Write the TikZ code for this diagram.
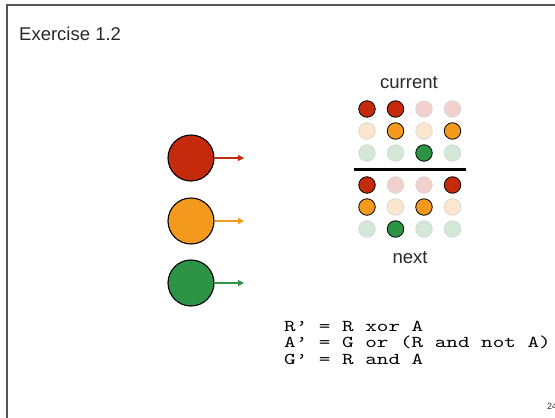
\documentclass[tikz,border=0pt]{standalone}
\usepackage{fontspec}
\setmainfont{Liberation Sans}
\newfontfamily\codefont{lmmono10-regular}[Extension=.otf,FakeStretch=1.33]
\usetikzlibrary{arrows.meta}
\definecolor{cred}{RGB}{197,42,12}
\definecolor{corange}{RGB}{243,154,30}
\definecolor{cgreen}{RGB}{45,148,69}
\definecolor{pred}{RGB}{242,209,204}
\definecolor{porange}{RGB}{253,230,206}
\definecolor{pgreen}{RGB}{211,232,215}
\definecolor{pborder}{RGB}{215,215,215}
\definecolor{framegray}{RGB}{85,85,85}
\definecolor{txtgray}{RGB}{40,40,40}
\begin{document}
\begin{tikzpicture}[x=1pt,y=-1pt,
  framelines/.style={draw=framegray,line width=2pt},
  bigc/.style={circle,draw=black,line width=1.1pt,minimum size=46pt,inner sep=0pt},
  sigarrow/.style={line width=1.1pt,-{Triangle[length=6pt,width=6pt]}},
  dot/.style={circle,minimum size=16.5pt,inner sep=0pt},
  Ron/.style={dot,fill=cred,draw=black,line width=0.8pt},
  Aon/.style={dot,fill=corange,draw=black,line width=0.8pt},
  Gon/.style={dot,fill=cgreen,draw=black,line width=0.8pt},
  Roff/.style={dot,fill=pred,draw=pborder,line width=0.8pt},
  Aoff/.style={dot,fill=porange,draw=pborder,line width=0.8pt},
  Goff/.style={dot,fill=pgreen,draw=pborder,line width=0.8pt},
  label/.style={font=\fontsize{18.5}{22}\selectfont,text=txtgray},
  code/.style={anchor=north west,align=left,font=\codefont\fontsize{16.6}{16.8}\selectfont,inner sep=0pt}
]
\useasboundingbox (0,0) rectangle (555,418);
% frame
\coordinate (fbl) at (7,420);
\coordinate (ftl) at (7,5);
\coordinate (ftr) at (557,5);
\draw[framelines] (fbl) -- (ftl) -- (ftr);
% title
\node[label,anchor=west,inner sep=0pt] (title) at (19,34) {Exercise 1.2};
% big circles
\node[bigc,fill=cred] (R) at (191,158) {};
\node[bigc,fill=corange] (A) at (191,221) {};
\node[bigc,fill=cgreen] (G) at (191,283) {};
\coordinate (Rend) at (244,158);
\coordinate (Aend) at (244,221);
\coordinate (Gend) at (244,283);
\draw[sigarrow,cred] (R.east) -- (Rend);
\draw[sigarrow,corange] (A.east) -- (Aend);
\draw[sigarrow,cgreen] (G.east) -- (Gend);
% current
\node[label] (cur) at (409,83) {current};
\foreach \st [count=\i] in {Ron,Ron,Roff,Roff}
  \node[\st] (c1-\i) at ({367+28.5*(\i-1)},109) {};
\foreach \st [count=\i] in {Aoff,Aon,Aoff,Aon}
  \node[\st] (c2-\i) at ({367+28.5*(\i-1)},131) {};
\foreach \st [count=\i] in {Goff,Goff,Gon,Goff}
  \node[\st] (c3-\i) at ({367+28.5*(\i-1)},153) {};
% bar
\coordinate (barL) at (354,169.5);
\coordinate (barR) at (466,169.5);
\draw[line width=3pt] (barL) -- (barR);
% next
\foreach \st [count=\i] in {Ron,Roff,Roff,Ron}
  \node[\st] (n1-\i) at ({367+28.5*(\i-1)},185) {};
\foreach \st [count=\i] in {Aon,Aoff,Aon,Aoff}
  \node[\st] (n2-\i) at ({367+28.5*(\i-1)},207) {};
\foreach \st [count=\i] in {Goff,Gon,Goff,Goff}
  \node[\st] (n3-\i) at ({367+28.5*(\i-1)},229) {};
\node[label] (nxt) at (410,258) {next};
% equations
\node[code] (eqs) at (284,320.5) {R’ = R xor A\\A’ = G or (R and not A)\\G’ = R and A};
% page number
\node[anchor=west,inner sep=0pt,font=\fontsize{9}{10}\selectfont,text=txtgray] (pg) at (547,406) {24};
\end{tikzpicture}
\end{document}
